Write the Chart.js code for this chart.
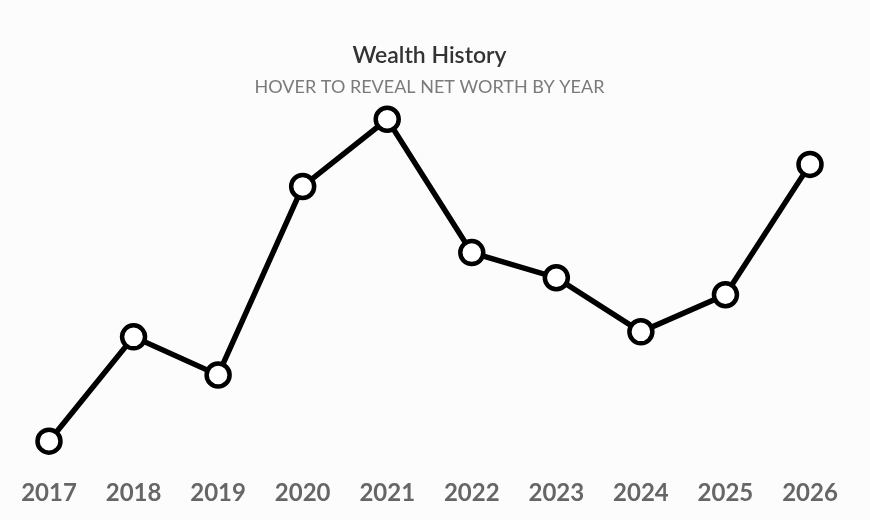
<!DOCTYPE html>
<html>
<head>
<meta charset="utf-8">
<script src="https://cdn.jsdelivr.net/npm/chart.js@4"></script>
<style>
  html, body { margin: 0; padding: 0; background: #fcfcfc; }
  #wrap { width: 870px; height: 520px; }
</style>
</head>
<body>
<div id="wrap"><canvas id="wealthChart"></canvas></div>
<script>
// years and net worth (in $k)
const years = ['2017', '2018', '2019', '2020', '2021', '2022', '2023', '2024', '2025', '2026'];
const netWorth = [20, 124, 86, 274, 341, 208, 183, 129, 166, 296];

const ctx = document.getElementById('wealthChart').getContext('2d');
new Chart(ctx, {
    type: 'line',
    data: {
        labels: years,
        datasets: [{
            label: 'Net worth',
            data: netWorth,
            borderColor: '#000000',
            borderWidth: 5.5,
            tension: 0,
            pointRadius: 11.5,
            pointBorderWidth: 4.5,
            pointBackgroundColor: '#ffffff',
            pointBorderColor: '#000000'
        }]
    },
    options: {
        responsive: true,
        maintainAspectRatio: false,
        animation: false,
        layout: { padding: { top: 20, left: 49, right: 60, bottom: 2 } },
        plugins: {
            legend: { display: false },
            title: {
                display: true,
                text: 'Wealth History',
                color: '#333333',
                font: { family: 'Lato', size: 23, weight: '600' },
                padding: { top: 22, bottom: 7 }
            },
            subtitle: {
                display: true,
                text: 'HOVER TO REVEAL NET WORTH BY YEAR',
                color: '#7a7a7a',
                font: { family: 'Lato', size: 18 },
                padding: { bottom: 2 }
            },
            tooltip: { enabled: true }
        },
        scales: {
            x: {
                grid: { display: false },
                border: { display: false },
                ticks: {
                    color: '#666666',
                    font: { family: 'Lato', size: 24, weight: 'bold' },
                    padding: 10,
                    maxRotation: 0
                }
            },
            y: {
                display: false,
                min: 0,
                max: 360
            }
        }
    }
});
</script>
</body>
</html>
